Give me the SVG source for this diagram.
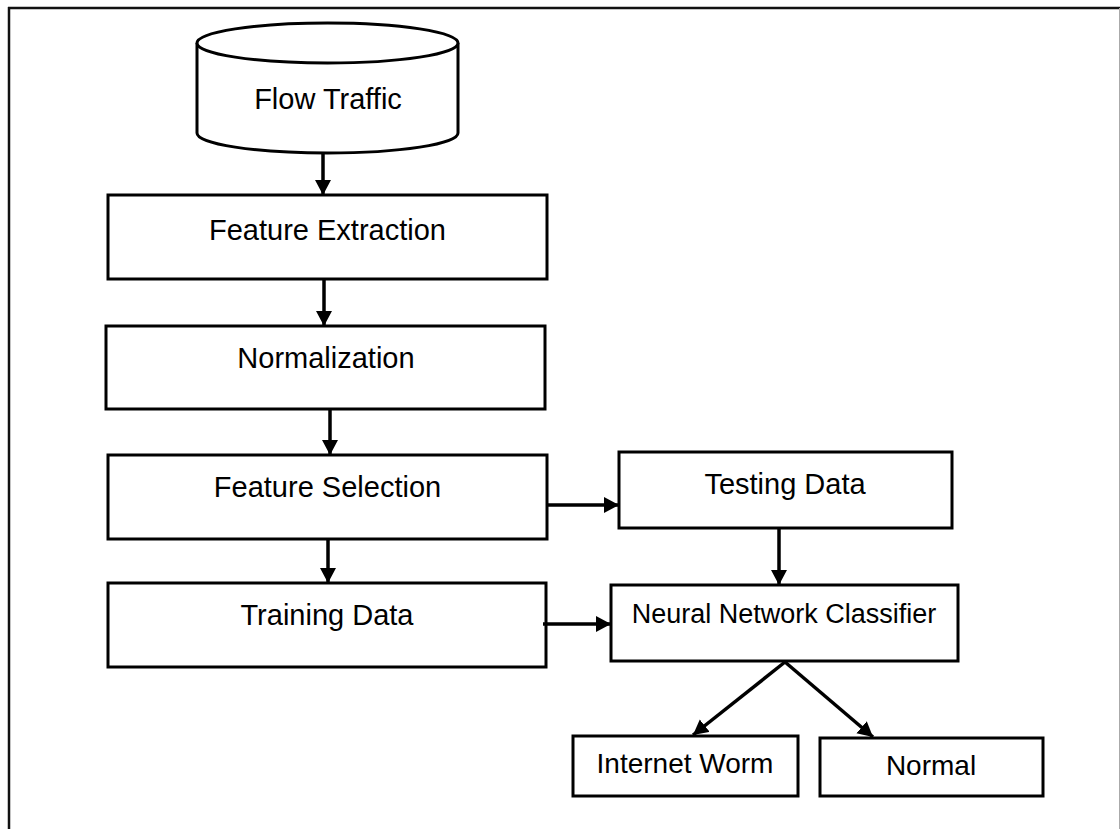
<svg xmlns="http://www.w3.org/2000/svg" width="1120" height="829" viewBox="0 0 1120 829">
  <style>
    .box { fill: #ffffff; stroke: #000000; stroke-width: 3; }
    .lbl { font-family: "Liberation Sans", Arial, sans-serif; font-size: 29px; fill: #000000; text-anchor: middle; }
    .lbl-s { font-size: 27px; }
    .lbl-m { font-size: 28px; }
    .conn { stroke: #000000; stroke-width: 3.5; fill: none; marker-end: url(#arrow); }
  </style>
  <defs>
    <marker id="arrow" markerUnits="userSpaceOnUse" markerWidth="18" markerHeight="18" refX="15" refY="8" orient="auto">
      <path d="M0,0 L15,8 L0,16 Z" fill="#000000"/>
    </marker>
  </defs>

  <rect x="0" y="0" width="1120" height="829" fill="#ffffff"/>

  <!-- page frame -->
  <g id="frame">
    <line x1="8" y1="8" x2="1120" y2="8" stroke="#111111" stroke-width="2.5"/>
    <line x1="9" y1="7" x2="9" y2="829" stroke="#111111" stroke-width="2.5"/>
    <line x1="1119.5" y1="8" x2="1119.5" y2="829" stroke="#aaaaaa" stroke-width="1"/>
  </g>

  <!-- data source cylinder -->
  <g id="flow-traffic">
    <path class="box" d="M197,43 L197,133 A130.5,20 0 0 0 458,133 L458,43"/>
    <ellipse class="box" cx="327.5" cy="43" rx="130.5" ry="20"/>
    <text class="lbl" x="328" y="109">Flow Traffic</text>
  </g>

  <g id="feature-extraction">
    <rect class="box" x="108" y="195" width="439" height="84"/>
    <text class="lbl" x="327.5" y="240">Feature Extraction</text>
  </g>

  <g id="normalization">
    <rect class="box" x="106" y="326" width="439" height="83"/>
    <text class="lbl" x="326" y="368">Normalization</text>
  </g>

  <g id="feature-selection">
    <rect class="box" x="108" y="455" width="439" height="84"/>
    <text class="lbl" x="327.5" y="497">Feature Selection</text>
  </g>

  <g id="training-data">
    <rect class="box" x="108" y="583" width="438" height="84"/>
    <text class="lbl" x="327" y="625">Training Data</text>
  </g>

  <g id="testing-data">
    <rect class="box" x="619" y="452" width="333" height="76"/>
    <text class="lbl" x="785" y="494">Testing Data</text>
  </g>

  <g id="neural-network-classifier">
    <rect class="box" x="611" y="585" width="347" height="76"/>
    <text class="lbl lbl-s" x="784" y="623">Neural Network Classifier</text>
  </g>

  <g id="internet-worm">
    <rect class="box" x="573" y="736" width="225" height="60"/>
    <text class="lbl lbl-m" x="685" y="773">Internet Worm</text>
  </g>

  <g id="normal">
    <rect class="box" x="820" y="738" width="223" height="58"/>
    <text class="lbl lbl-m" x="931" y="775">Normal</text>
  </g>

  <!-- connectors -->
  <g id="connectors">
    <line class="conn" x1="323" y1="153" x2="323" y2="195"/>
    <line class="conn" x1="324" y1="279" x2="324" y2="326"/>
    <line class="conn" x1="330" y1="409" x2="330" y2="455"/>
    <line class="conn" x1="328" y1="539" x2="328" y2="583"/>
    <line class="conn" x1="547" y1="505" x2="619" y2="505"/>
    <line class="conn" x1="543" y1="624" x2="611" y2="624"/>
    <line class="conn" x1="779" y1="528" x2="779" y2="585"/>
    <line class="conn" x1="785" y1="662" x2="693" y2="735"/>
    <line class="conn" x1="785" y1="662" x2="873" y2="737"/>
  </g>
</svg>
